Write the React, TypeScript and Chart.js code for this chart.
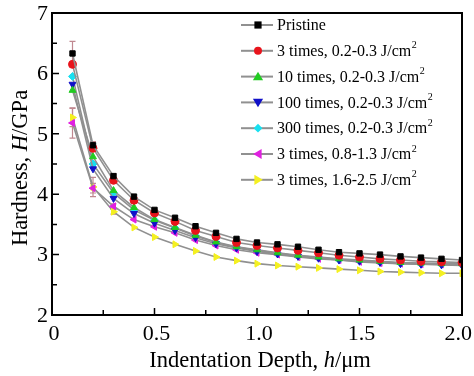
import React, { useEffect, useRef } from "react";
import { Chart, registerables } from "chart.js";

Chart.register(...registerables);

const depth = [0.1, 0.2, 0.3, 0.4, 0.5, 0.6, 0.7, 0.8, 0.9, 1.0, 1.1, 1.2, 1.3, 1.4, 1.5, 1.6, 1.7, 1.8, 1.9, 2.0];

const pristine = [6.33, 4.81, 4.30, 3.96, 3.74, 3.61, 3.47, 3.36, 3.26, 3.20, 3.17, 3.13, 3.08, 3.04, 3.02, 3.00, 2.97, 2.95, 2.93, 2.91];
const t3low = [6.15, 4.76, 4.23, 3.90, 3.69, 3.55, 3.40, 3.30, 3.20, 3.15, 3.11, 3.07, 3.03, 2.99, 2.96, 2.93, 2.91, 2.89, 2.88, 2.87];
const t10low = [5.72, 4.62, 4.06, 3.78, 3.58, 3.45, 3.32, 3.21, 3.13, 3.08, 3.03, 2.99, 2.96, 2.93, 2.91, 2.89, 2.87, 2.86, 2.85, 2.85];
const t100low = [5.82, 4.42, 3.93, 3.68, 3.52, 3.40, 3.28, 3.18, 3.11, 3.05, 3.01, 2.97, 2.94, 2.91, 2.89, 2.87, 2.85, 2.84, 2.83, 2.82];
const t300low = [5.95, 4.50, 4.02, 3.74, 3.57, 3.44, 3.31, 3.20, 3.12, 3.07, 3.02, 2.98, 2.95, 2.92, 2.90, 2.88, 2.86, 2.85, 2.84, 2.84];
const t3mid = [5.18, 4.10, 3.80, 3.58, 3.46, 3.36, 3.24, 3.15, 3.08, 3.03, 3.00, 2.96, 2.93, 2.91, 2.88, 2.86, 2.85, 2.84, 2.84, 2.83];
const t3high = [5.27, 4.12, 3.71, 3.45, 3.29, 3.17, 3.06, 2.96, 2.90, 2.85, 2.82, 2.80, 2.78, 2.76, 2.74, 2.72, 2.71, 2.70, 2.69, 2.69];

const errPristine = [0.2, 0.06, 0.04, 0, 0, 0, 0, 0, 0, 0, 0, 0, 0, 0, 0, 0, 0, 0, 0, 0];
const errT3mid = [0.25, 0.08, 0.04, 0, 0, 0, 0, 0, 0, 0, 0, 0, 0, 0, 0, 0, 0, 0, 0, 0];
const errT3high = [0.15, 0.16, 0.04, 0, 0, 0, 0, 0, 0, 0, 0, 0, 0, 0, 0, 0, 0, 0, 0, 0];

const seriesLabels = ["Pristine", "3 times, 0.2-0.3 J/cm", "10 times, 0.2-0.3 J/cm", "100 times, 0.2-0.3 J/cm", "300 times, 0.2-0.3 J/cm", "3 times, 0.8-1.3 J/cm", "3 times, 1.6-2.5 J/cm"];
const seriesSup = ["", "2", "2", "2", "2", "2", "2"];
const seriesColors = ["#000000", "#e8141c", "#22cc22", "#1010c8", "#18e0f0", "#e020e0", "#f4f020"];
const seriesStyles = ["rect", "circle", "triangle", "triangle", "rectRot", "triangle", "triangle"];
const seriesRot = [0, 0, 0, 180, 0, -90, 90];
const seriesValues = [pristine, t3low, t10low, t100low, t300low, t3mid, t3high];
const seriesErr = [errPristine, null, null, null, null, errT3mid, errT3high];

const xTicks = [0, 0.5, 1.0, 1.5, 2.0];
const xTickLabels = ["0", "0.5", "1.0", "1.5", "2.0"];
const yTicks = [2, 3, 4, 5, 6, 7];
const yTickLabels = ["2", "3", "4", "5", "6", "7"];

const SERIF = "'Liberation Serif', 'Times New Roman', serif";
const LINE_GRAY = "#909090";

function drawMarker(ctx: CanvasRenderingContext2D, style: string, rot: number, r: number, x: number, y: number) {
  ctx.save();
  ctx.translate(x, y);
  ctx.rotate((rot * Math.PI) / 180);
  ctx.beginPath();
  if (style === "rect") {
    ctx.rect(-r * 0.9, -r * 0.9, r * 1.8, r * 1.8);
  } else if (style === "circle") {
    ctx.arc(0, 0, r, 0, Math.PI * 2);
  } else if (style === "rectRot") {
    ctx.moveTo(0, -r * 1.1);
    ctx.lineTo(r * 1.1, 0);
    ctx.lineTo(0, r * 1.1);
    ctx.lineTo(-r * 1.1, 0);
    ctx.closePath();
  } else {
    const h = r * 1.5;
    ctx.moveTo(0, -h * 0.8);
    ctx.lineTo(h * 0.85, h * 0.6);
    ctx.lineTo(-h * 0.85, h * 0.6);
    ctx.closePath();
  }
  ctx.fill();
  ctx.restore();
}

const framePlugin = {
  id: "frame",
  beforeDatasetsDraw(chart: any) {
    const ctx = chart.ctx;
    const xs = chart.scales.x;
    const ys = chart.scales.y;
    ctx.save();
    ctx.strokeStyle = "#c08890";
    ctx.lineWidth = 1.2;
    seriesErr.forEach((errs, si) => {
      if (!errs) return;
      errs.forEach((e, i) => {
        if (!e) return;
        const v = seriesValues[si][i];
        const px = xs.getPixelForValue(depth[i]);
        const top = ys.getPixelForValue(v + e);
        const bot = ys.getPixelForValue(v - e);
        ctx.beginPath();
        ctx.moveTo(px, top);
        ctx.lineTo(px, bot);
        ctx.moveTo(px - 3, top);
        ctx.lineTo(px + 3, top);
        ctx.moveTo(px - 3, bot);
        ctx.lineTo(px + 3, bot);
        ctx.stroke();
      });
    });
    ctx.restore();
  },
  afterDraw(chart: any) {
    const ctx = chart.ctx;
    const a = chart.chartArea;
    const xs = chart.scales.x;
    const ys = chart.scales.y;
    ctx.save();
    ctx.strokeStyle = "#000";
    ctx.lineWidth = 2;
    ctx.strokeRect(a.left, a.top, a.right - a.left, a.bottom - a.top);
    ctx.lineWidth = 1.5;
    ctx.beginPath();
    for (let v = 0; v <= 2.0001; v += 0.25) {
      const px = xs.getPixelForValue(v);
      const major = Math.abs(v * 2 - Math.round(v * 2)) < 1e-6;
      const len = major ? 7 : 5;
      ctx.moveTo(px, a.bottom);
      ctx.lineTo(px, a.bottom - len);
    }
    for (let v = 2; v <= 7.0001; v += 0.5) {
      const py = ys.getPixelForValue(v);
      const major = Math.abs(v - Math.round(v)) < 1e-6;
      const len = major ? 7 : 5;
      ctx.moveTo(a.left, py);
      ctx.lineTo(a.left + len, py);
    }
    ctx.stroke();

    // tick labels
    ctx.fillStyle = "#000";
    ctx.font = "22px " + SERIF;
    ctx.textBaseline = "middle";
    ctx.textAlign = "center";
    const W = chart.width;
    xTicks.forEach((v, i) => {
      const w = ctx.measureText(xTickLabels[i]).width;
      let cx = xs.getPixelForValue(v) + 2;
      if (cx + w / 2 > W - 2) cx = W - 2 - w / 2;
      ctx.fillText(xTickLabels[i], cx, a.bottom + 19);
    });
    ctx.textAlign = "right";
    yTicks.forEach((v, i) => {
      ctx.fillText(yTickLabels[i], a.left - 4, ys.getPixelForValue(v) + 1);
    });

    // axis titles
    const drawParts = (parts: { t: string; it: boolean }[], cx: number, cy: number) => {
      let total = 0;
      parts.forEach((p) => {
        ctx.font = (p.it ? "italic " : "") + "22.5px " + SERIF;
        total += ctx.measureText(p.t).width;
      });
      let x = cx - total / 2;
      ctx.textAlign = "left";
      ctx.textBaseline = "middle";
      parts.forEach((p) => {
        ctx.font = (p.it ? "italic " : "") + "22.5px " + SERIF;
        ctx.fillText(p.t, x, cy);
        x += ctx.measureText(p.t).width;
      });
    };
    drawParts(
      [
        { t: "Indentation Depth, ", it: false },
        { t: "h", it: true },
        { t: "/\u03bcm", it: false },
      ],
      260,
      361
    );
    ctx.save();
    ctx.translate(21, 168);
    ctx.rotate(-Math.PI / 2);
    drawParts(
      [
        { t: "Hardness, ", it: false },
        { t: "H", it: true },
        { t: "/GPa", it: false },
      ],
      0,
      0
    );
    ctx.restore();

    // legend
    const lx0 = 241;
    const lx1 = 273;
    const mx = 258;
    const tx = 277;
    const y0 = 25;
    const dy = 25.8;
    seriesLabels.forEach((label, i) => {
      const y = y0 + i * dy;
      ctx.strokeStyle = LINE_GRAY;
      ctx.lineWidth = 2;
      ctx.beginPath();
      ctx.moveTo(lx0, y);
      ctx.lineTo(lx1, y);
      ctx.stroke();
      ctx.fillStyle = seriesColors[i];
      drawMarker(ctx, seriesStyles[i], seriesRot[i], 4, mx, y);
      ctx.fillStyle = "#000";
      ctx.textAlign = "left";
      ctx.textBaseline = "middle";
      ctx.font = "16px " + SERIF;
      ctx.fillText(label, tx, y + 1);
      if (seriesSup[i]) {
        const w = ctx.measureText(label).width;
        ctx.font = "10px " + SERIF;
        ctx.fillText(seriesSup[i], tx + w + 0.5, y - 5);
      }
    });
    ctx.restore();
  },
};

export default function App() {
  const ref = useRef<HTMLCanvasElement | null>(null);
  useEffect(() => {
    document.body.style.margin = "0";
    const canvas = ref.current;
    if (!canvas) return;
    const datasets = seriesValues.map((vals, i) => ({
      label: seriesLabels[i],
      data: vals.map((v, j) => ({ x: depth[j], y: v })),
      borderColor: LINE_GRAY,
      borderWidth: 1.6,
      backgroundColor: seriesColors[i],
      pointBackgroundColor: seriesColors[i],
      pointBorderColor: seriesColors[i],
      pointBorderWidth: 1,
      pointStyle: seriesStyles[i] as any,
      pointRotation: seriesRot[i],
      pointRadius: seriesStyles[i] === "rect" ? 3.8 : 4,
      tension: 0,
      fill: false,
    }));
    const chart = new Chart(canvas, {
      type: "line",
      data: { datasets },
      plugins: [framePlugin],
      options: {
        responsive: false,
        animation: false,
        layout: { padding: { left: 0, top: 13, right: 12, bottom: 0 } },
        plugins: { legend: { display: false }, tooltip: { enabled: false } },
        scales: {
          x: {
            type: "linear",
            min: 0,
            max: 2,
            afterFit: (s: any) => {
              s.height = 61;
              s.paddingLeft = 0;
              s.paddingRight = 0;
            },
            grid: { display: false, drawTicks: false },
            border: { display: false },
            ticks: { display: false, stepSize: 0.5 },
          },
          y: {
            type: "linear",
            min: 2,
            max: 7,
            afterFit: (s: any) => {
              s.width = 52;
              s.paddingTop = 0;
              s.paddingBottom = 0;
            },
            grid: { display: false, drawTicks: false },
            border: { display: false },
            ticks: { display: false, stepSize: 1 },
          },
        },
      },
    });
    return () => chart.destroy();
  }, []);
  return <canvas ref={ref} width={474} height={376} style={{ display: "block", width: 474, height: 376 }} />;
}
